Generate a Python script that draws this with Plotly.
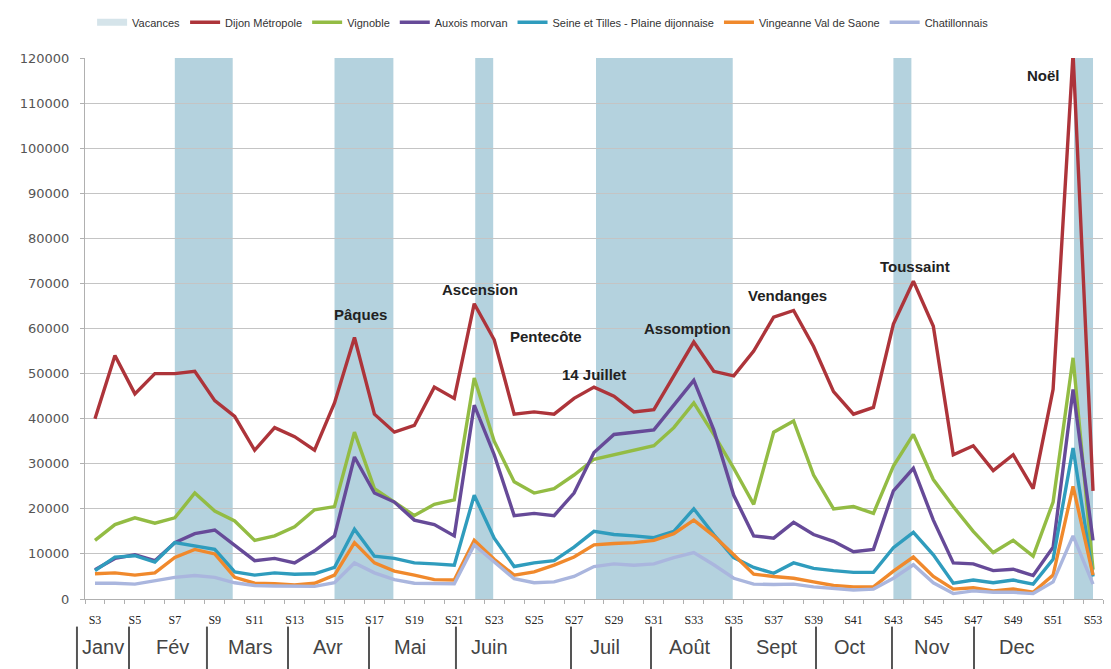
import plotly.graph_objects as go

# Weekly attendance by territory, weeks S3 .. S53
weeks = list(range(3, 54))

dijon_metropole = [40000, 54000, 45500, 50000, 50000, 50500, 44000, 40500, 33000, 38000,
                   36000, 33000, 43500, 58000, 41000, 37000, 38500, 47000, 44500, 65500,
                   57500, 41000, 41500, 41000, 44500, 47000, 45000, 41500, 42000, 49500,
                   57000, 50500, 49500, 55000, 62500, 64000, 56000, 46000, 41000, 42500,
                   61000, 70500, 60500, 32000, 34000, 28500, 32000, 24500, 46500, 121000,
                   24000]
vignoble = [13000, 16500, 18000, 16800, 18000, 23500, 19500, 17300, 13000, 14000,
            16000, 19800, 20500, 37000, 24500, 21500, 18500, 21000, 22000, 49000,
            35000, 26000, 23500, 24500, 27500, 31000, 32000, 33000, 34000, 38000,
            43500, 36500, 29000, 21000, 37000, 39500, 27500, 20000, 20500, 19000,
            29500, 36500, 26500, 20500, 15000, 10300, 13000, 9500, 21500, 53500,
            6500]
auxois_morvan = [6500, 9000, 9800, 8500, 12500, 14500, 15300, 12000, 8500, 9000,
                 8000, 10700, 14000, 31500, 23500, 21500, 17500, 16500, 14000, 43000,
                 32000, 18500, 19000, 18500, 23500, 32500, 36500, 37000, 37500, 43000,
                 48500, 37500, 23000, 14000, 13500, 17000, 14300, 12800, 10500, 11000,
                 24000, 29000, 17500, 8000, 7800, 6300, 6600, 5200, 11500, 46500,
                 13000]
seine_tilles = [6300, 9300, 9600, 8200, 12500, 11800, 11000, 6000, 5300, 5800,
                5500, 5600, 7000, 15500, 9500, 9000, 8000, 7800, 7500, 23000,
                13500, 7200, 8000, 8500, 11500, 15000, 14300, 14000, 13600, 15000,
                20000, 14300, 9200, 7000, 5700, 8000, 6800, 6300, 5900, 5900,
                11400, 14800, 9800, 3500, 4200, 3600, 4200, 3300, 8800, 33500,
                5000]
vingeanne = [5600, 5800, 5300, 5800, 9200, 11000, 10000, 4800, 3500, 3400,
             3100, 3500, 5300, 12500, 8000, 6200, 5300, 4300, 4200, 13000,
             8800, 5300, 6000, 7500, 9300, 12000, 12300, 12500, 13000, 14500,
             17500, 14000, 9800, 5500, 5000, 4600, 3800, 3000, 2700, 2700,
             6200, 9300, 5000, 2200, 2500, 1800, 2200, 1500, 5300, 25000,
             5300]
chatillonnais = [3500, 3500, 3300, 4100, 4800, 5200, 4800, 3600, 3000, 2900,
                 2800, 2800, 3600, 8000, 5800, 4300, 3500, 3400, 3400, 12000,
                 8200, 4500, 3600, 3800, 5000, 7200, 7800, 7500, 7800, 9200,
                 10300, 7600, 4600, 3300, 3200, 3300, 2700, 2300, 2000, 2200,
                 4600, 7600, 3600, 1200, 1800, 1500, 1500, 1200, 3800, 14000,
                 3300]

series_names = ["Dijon Métropole", "Vignoble", "Auxois morvan",
                "Seine et Tilles - Plaine dijonnaise", "Vingeanne Val de Saone",
                "Chatillonnais"]
series_values = [dijon_metropole, vignoble, auxois_morvan, seine_tilles,
                 vingeanne, chatillonnais]
series_colors = ["#ad343a", "#93bc44", "#664a98", "#2f9cbd", "#f0892c", "#aab6de"]

# School holidays (week positions)
vacances_start = [7.0, 15.0, 22.05, 28.1, 43.0, 52.05]
vacances_end = [9.9, 17.95, 22.95, 34.95, 43.9, 53.0]

# Holiday labels with their (week, value) anchors
event_labels = ["Pâques", "Ascension", "Pentecôte", "14 Juillet", "Assomption",
                "Vendanges", "Toussaint", "Noël"]
event_weeks = [16.3, 22.3, 25.6, 28.0, 32.7, 37.7, 44.1, 50.5]
event_values = [63000, 68700, 58200, 49900, 60000, 67400, 73700, 116200]

# Week tick labels
tick_weeks = list(range(3, 54, 2))
tick_labels = ["S%d" % w for w in tick_weeks]

# Month strip under the axis
months = ["Janv", "Fév", "Mars", "Avr", "Mai", "Juin", "Juil", "Août", "Sept",
          "Oct", "Nov", "Dec"]
month_centers = [0.0177, 0.0855, 0.1621, 0.2387, 0.3193, 0.3978, 0.5108, 0.5943,
                 0.6798, 0.7515, 0.832, 0.9155]
month_separators = [-0.0079, 0.0432, 0.1198, 0.1994, 0.279, 0.3644, 0.4774,
                    0.556, 0.6346, 0.7181, 0.7927, 0.8733]

band_color = "#b4d2de"

fig = go.Figure()

# Legend entry for the holiday bands
fig.add_trace(go.Scatter(x=[None], y=[None], mode="lines", name="Vacances",
                         line=dict(color="#d5e4ea", width=7)))

for name, vals, col in zip(series_names, series_values, series_colors):
    fig.add_trace(go.Scatter(x=weeks, y=vals, mode="lines", name=name,
                             line=dict(color=col, width=3.4)))

for x0, x1 in zip(vacances_start, vacances_end):
    fig.add_shape(type="rect", xref="x", yref="y", x0=x0, x1=x1, y0=0, y1=120000,
                  fillcolor=band_color, line=dict(width=0), layer="below")

for lab, wx, vy in zip(event_labels, event_weeks, event_values):
    fig.add_annotation(x=wx, y=vy, xref="x", yref="y", text="<b>%s</b>" % lab,
                       showarrow=False,
                       font=dict(family="Liberation Sans, Arial", size=15,
                                 color="#222222"))

for m, cx in zip(months, month_centers):
    fig.add_annotation(x=cx, y=-0.089, xref="paper", yref="paper", text=m,
                       showarrow=False, xanchor="center", yanchor="middle",
                       font=dict(family="Liberation Sans, Arial", size=20,
                                 color="#444444"))

for sx in month_separators:
    fig.add_shape(type="line", xref="paper", yref="paper", x0=sx, x1=sx,
                  y0=-0.051, y1=-0.14, line=dict(color="#555555", width=2))

fig.update_layout(
    width=1111, height=669,
    margin=dict(l=85, r=8, t=51, b=70),
    paper_bgcolor="white", plot_bgcolor="white",
    showlegend=True,
    legend=dict(orientation="h", x=0.45, xanchor="center", y=1.066,
                yanchor="middle", font=dict(family="Liberation Sans, Arial",
                                             size=11, color="#333333"),
                itemwidth=30, tracegroupgap=0, bgcolor="rgba(0,0,0,0)"),
    xaxis=dict(range=[2.5, 53.5], tickmode="array", tickvals=tick_weeks,
               ticktext=tick_labels, ticks="", showgrid=False, zeroline=False,
               showline=True, linecolor="#b0b0b0", linewidth=1,
               ticklabelstandoff=10,
               tickfont=dict(family="Liberation Serif, serif", size=12,
                             color="#222222"),
               minor=dict(tickvals=[w + 0.5 for w in range(2, 54)], ticks="outside",
                          ticklen=4, tickcolor="#b0b0b0", showgrid=False)),
    yaxis=dict(range=[0, 120000], dtick=10000, tickformat="d", showgrid=True,
               gridcolor="#c4c4c4", gridwidth=1, zeroline=False,
               showline=True, linecolor="#b0b0b0", linewidth=1,
               ticks="outside", ticklen=4, tickcolor="#b0b0b0",
               ticklabelstandoff=8,
               tickfont=dict(family="DejaVu Sans", size=13, color="#555555")),
)

fig.write_html("out.html")
